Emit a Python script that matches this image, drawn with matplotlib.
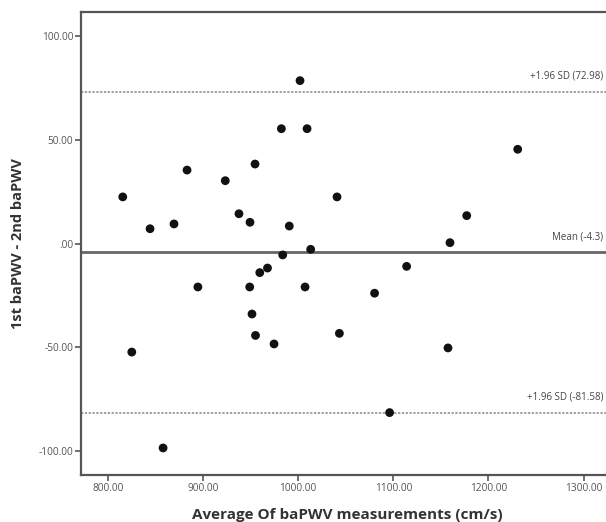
import matplotlib
matplotlib.use("Agg")
import matplotlib.pyplot as plt

plt.rcParams['font.family'] = ['Open Sans', 'DejaVu Sans']

# Data: average of measurements (x) vs. difference (y)
avg_vals = [815.5, 844.2, 869.4, 883.1, 923.3, 937.7, 949.3, 954.6, 1001.9,
            982.3, 1009.3, 1040.8, 990.6, 1013.1, 983.7, 1230.8, 1177.2, 1159.6,
            959.6, 967.7, 1114.0, 894.5, 949.0, 1007.2, 1080.3, 951.4, 825.0,
            955.1, 974.6, 1043.3, 1157.5, 1096.1, 857.9]
diff_vals = [22.4, 7.1, 9.4, 35.3, 30.2, 14.3, 10.2, 38.2, 78.3,
             55.2, 55.2, 22.4, 8.4, -2.8, -5.5, 45.3, 13.4, 0.4,
             -14.0, -11.8, -11.0, -20.9, -20.9, -20.9, -23.9, -33.9, -52.2,
             -44.2, -48.3, -43.2, -50.2, -81.3, -98.3]

mean_diff = -4.3
upper_loa = 72.98
lower_loa = -81.58

x_ticks = [800, 900, 1000, 1100, 1200, 1300]
x_tick_labels = ["800.00", "900.00", "1000.00", "1100.00", "1200.00", "1300.00"]
y_ticks = [100, 50, 0, -50, -100]
y_tick_labels = ["100.00", "50.00", ".00", "-50.00", "-100.00"]

fig = plt.figure(figsize=(6.06, 5.22), dpi=100)
W, H = 606, 522
left_px, right_px, top_px, bottom_px = 81, 614, 12, 475
ax = fig.add_axes([left_px / W, 1 - bottom_px / H,
                   (right_px - left_px) / W, (bottom_px - top_px) / H])

ax.set_xlim(771.6, 771.6 + (right_px - left_px) / 0.951)
ax.set_ylim(-111.3, 111.3)

line_col = "#555555"
ax.axhline(mean_diff, color="#666666", lw=2.0, zorder=1)
ax.axhline(upper_loa, color="#888888", lw=1.1, ls=(0, (1.5, 1.0)), zorder=1)
ax.axhline(lower_loa, color="#888888", lw=1.1, ls=(0, (1.5, 1.0)), zorder=1)

ax.scatter(avg_vals, diff_vals, s=40, color="#111111", edgecolors="none", zorder=3)

txt_col = "#444444"
xr = ax.get_xlim()[0] + (603 - left_px) / 0.951
ax.text(xr, upper_loa + 5, "+1.96 SD (72.98)", ha="right", va="bottom",
        fontsize=7, color=txt_col)
ax.text(xr, mean_diff + 5, "Mean (-4.3)", ha="right", va="bottom",
        fontsize=7, color=txt_col)
ax.text(xr, lower_loa + 5, "+1.96 SD (-81.58)", ha="right", va="bottom",
        fontsize=7, color=txt_col)

ax.set_xticks(x_ticks)
ax.set_xticklabels(x_tick_labels)
ax.set_yticks(y_ticks)
ax.set_yticklabels(y_tick_labels)
ax.tick_params(axis="both", direction="out", length=4, width=1.2,
               color=line_col, labelsize=7.3, labelcolor="#555555", pad=1.5)

for sp in ax.spines.values():
    sp.set_color(line_col)
    sp.set_linewidth(1.6)

ax.set_xlabel("Average Of baPWV measurements (cm/s)", fontsize=11,
              fontweight="bold", color="#333333", labelpad=10)
ax.set_ylabel("1st baPWV - 2nd baPWV", fontsize=10.5, fontweight="bold",
              color="#333333", labelpad=10)

fig.savefig("out.png", dpi=100)
